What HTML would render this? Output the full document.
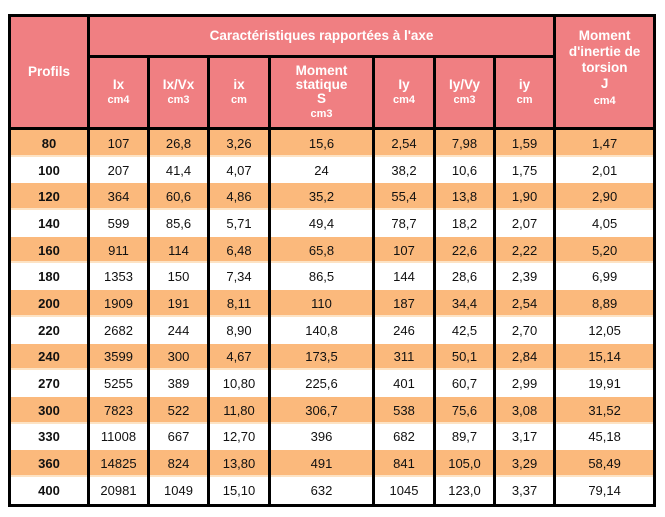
<!DOCTYPE html>
<html><head><meta charset="utf-8"><style>
body{margin:0;width:665px;height:517px;background:#fff;overflow:hidden;font-family:"Liberation Sans",Arial,sans-serif}
table{position:absolute;left:8px;top:14px;border-collapse:collapse;table-layout:fixed;width:645px;border:3px solid #000}
td,th{padding:0;text-align:center;font-size:13px;color:#111}
th{background:#f07f82;color:#fff;font-weight:bold;border:3px solid #000;line-height:14px;font-size:13.5px}
th small{font-size:11px;font-weight:bold}
td{border-left:3px solid #000;border-right:3px solid #000;height:26.7px}
tr.o td{background:#fbb97c;box-shadow:inset 0 -2px 0 #fde3c4}
td:first-child{font-weight:bold}
</style></head><body>
<table>
<colgroup><col style="width:79px"><col style="width:60px"><col style="width:60px"><col style="width:61px"><col style="width:104px"><col style="width:61px"><col style="width:60px"><col style="width:60px"><col style="width:100px"></colgroup>
<tr style="height:41px">
<th rowspan="2">Profils</th>
<th colspan="7">Caractéristiques rapportées à l'axe</th>
<th rowspan="2" style="vertical-align:top;padding-top:11px;line-height:16px">Moment<br>d'inertie de<br>torsion<br>J<br><small>cm4</small></th>
</tr>
<tr style="height:72px">
<th>Ix<br><small>cm4</small></th>
<th>Ix/Vx<br><small>cm3</small></th>
<th>ix<br><small>cm</small></th>
<th>Moment<br>statique<br>S<br><small>cm3</small></th>
<th>Iy<br><small>cm4</small></th>
<th>Iy/Vy<br><small>cm3</small></th>
<th>iy<br><small>cm</small></th>
</tr>
<tbody id="body"></tbody>
</table>
<script>
const rows=[
["80","107","26,8","3,26","15,6","2,54","7,98","1,59","1,47"],
["100","207","41,4","4,07","24","38,2","10,6","1,75","2,01"],
["120","364","60,6","4,86","35,2","55,4","13,8","1,90","2,90"],
["140","599","85,6","5,71","49,4","78,7","18,2","2,07","4,05"],
["160","911","114","6,48","65,8","107","22,6","2,22","5,20"],
["180","1353","150","7,34","86,5","144","28,6","2,39","6,99"],
["200","1909","191","8,11","110","187","34,4","2,54","8,89"],
["220","2682","244","8,90","140,8","246","42,5","2,70","12,05"],
["240","3599","300","4,67","173,5","311","50,1","2,84","15,14"],
["270","5255","389","10,80","225,6","401","60,7","2,99","19,91"],
["300","7823","522","11,80","306,7","538","75,6","3,08","31,52"],
["330","11008","667","12,70","396","682","89,7","3,17","45,18"],
["360","14825","824","13,80","491","841","105,0","3,29","58,49"],
["400","20981","1049","15,10","632","1045","123,0","3,37","79,14"]];
const tb=document.getElementById('body');
rows.forEach((r,i)=>{const tr=document.createElement('tr');


if(i%2===0)tr.className='o';
r.forEach((v,j)=>{const td=document.createElement('td');td.textContent=v;


tr.appendChild(td);});tb.appendChild(tr);});
</script>
</body></html>
